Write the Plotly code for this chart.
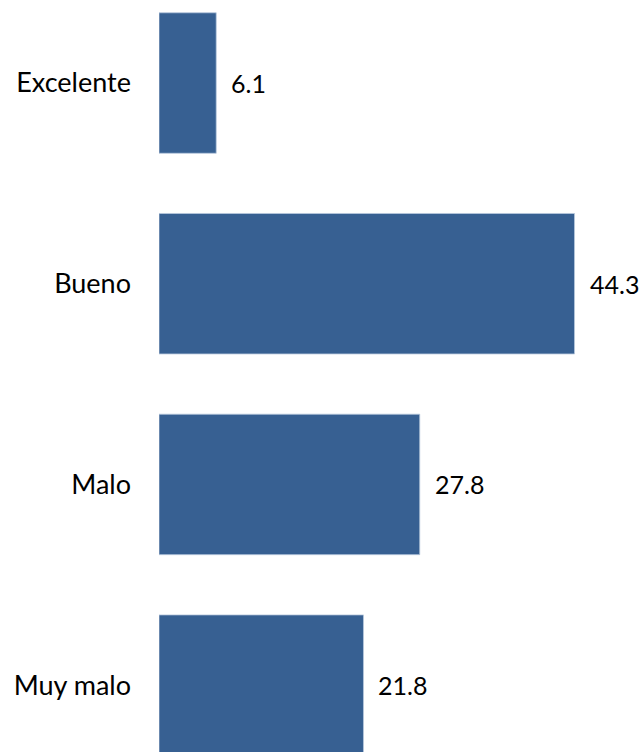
import plotly.graph_objects as go

categories = ["Excelente", "Bueno", "Malo", "Muy malo"]
values = [6.1, 44.3, 27.8, 21.8]
value_labels = ["6.1", "44.3", "27.8", "21.8"]

BAR_COLOR = "#376092"
FONT = "Lato"

fig = go.Figure()
fig.add_trace(go.Bar(
    x=values,
    y=categories,
    orientation="h",
    marker=dict(color=BAR_COLOR, line=dict(color="#b9c9dd", width=0.8)),
    hoverinfo="skip",
))

for cat, val, lab in zip(categories, values, value_labels):
    fig.add_annotation(
        x=val, y=cat, text=lab, showarrow=False,
        xanchor="left", yanchor="middle", xshift=13,
        font=dict(family=FONT, size=25, color="#000000"),
    )

fig.update_layout(
    width=642, height=752,
    margin=dict(l=159, r=14, t=0, b=0),
    paper_bgcolor="white", plot_bgcolor="white",
    bargap=0.3,
    showlegend=False,
    font=dict(family=FONT, size=27, color="#000000"),
)
fig.update_xaxes(range=[0, 50], visible=False, showgrid=False, zeroline=False)
fig.update_yaxes(
    type="category",
    categoryorder="array", categoryarray=categories,
    range=[3.333, -0.4136],
    showgrid=False, zeroline=False, showline=False, ticks="",
    ticklabelstandoff=27,
    tickfont=dict(family=FONT, size=27, color="#000000"),
)

fig.write_html(
    "out.html",
    config={"displayModeBar": False},
    post_script=(
        "document.body.style.margin='0';"
        "document.body.style.overflow='hidden';"
        "document.documentElement.style.overflow='hidden';"
    ),
)
